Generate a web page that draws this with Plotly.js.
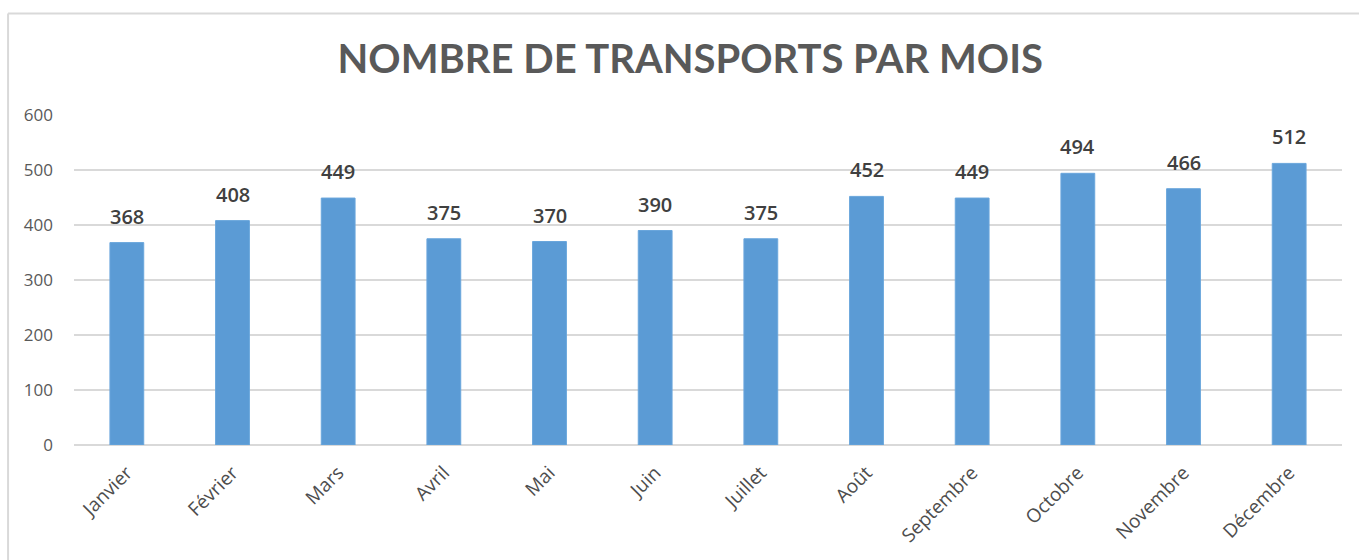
<!DOCTYPE html>
<html>
<head>
<meta charset="utf-8">
<script src="https://cdn.plot.ly/plotly-3.0.1.min.js"></script>
<style>
html,body{margin:0;padding:0;background:#fff;}
#chart{width:1359px;height:560px;}
</style>
</head>
<body>
<div id="chart"></div>
<script>
const months = ["Janvier","Février","Mars","Avril","Mai","Juin","Juillet","Août","Septembre","Octobre","Novembre","Décembre"];
const transports = [368,408,449,375,370,390,375,452,449,494,466,512];
const yTicks = [0,100,200,300,400,500,600];

const trace = {
  type: 'bar',
  x: months,
  y: transports,
  marker: {color: '#5B9BD5', line: {color: '#6aa6dc', width: 1}},
  hoverinfo: 'x+y'
};

const labels = months.map((m, i) => ({
  x: m,
  y: transports[i],
  xref: 'x',
  yref: 'y',
  text: String(transports[i]),
  showarrow: false,
  yanchor: 'bottom',
  yshift: 11,
  font: {family: 'Open Sans', size: 20, color: '#404040', weight: 600}
}));

const layout = {
  width: 1359,
  height: 560,
  margin: {l: 74, r: 17, t: 115, b: 115},
  paper_bgcolor: '#ffffff',
  plot_bgcolor: '#ffffff',
  showlegend: false,
  bargap: 0.68,
  title: {
    text: 'NOMBRE DE TRANSPORTS PAR MOIS',
    font: {family: 'Lato', size: 40, color: '#595959', weight: 'bold'},
    x: 0.486, xanchor: 'center',
    y: 0.895, yanchor: 'middle',
    xref: 'paper'
  },
  xaxis: {
    type: 'category',
    tickangle: -45,
    tickfont: {family: 'Open Sans', size: 19, color: '#4d4d4d'},
    showgrid: false,
    showline: false,
    zeroline: false,
    ticks: '',
    ticklabelstandoff: 12
  },
  yaxis: {
    range: [0, 600],
    tickvals: yTicks,
    ticktext: yTicks.map(String),
    tickfont: {family: 'Open Sans', size: 17, color: '#595959'},
    showgrid: true,
    gridcolor: '#d9d9d9',
    gridwidth: 1.5,
    zeroline: true,
    zerolinecolor: '#d9d9d9',
    zerolinewidth: 1.5,
    showline: false,
    ticks: '',
    ticklabelstandoff: 20,
    fixedrange: true
  },
  annotations: labels,
  shapes: [
    {type: 'line', xref: 'paper', yref: 'paper', x0: -0.052, x1: 1.02, y0: 1.3075, y1: 1.3075, line: {color: '#d9d9d9', width: 2}},
    {type: 'line', xref: 'paper', yref: 'paper', x0: -0.052, x1: -0.052, y0: 1.3075, y1: -0.4, line: {color: '#d9d9d9', width: 2}}
  ]
};

Plotly.newPlot('chart', [trace], layout, {displayModeBar: false, staticPlot: true});
</script>
</body>
</html>
